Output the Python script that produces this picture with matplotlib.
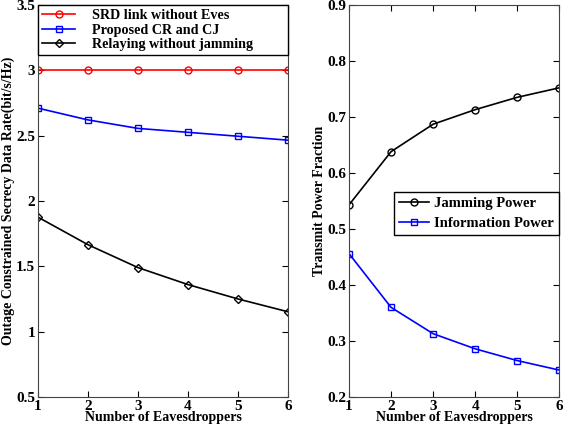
import matplotlib
matplotlib.use("Agg")
from matplotlib import pyplot as plt

eves = [1, 2, 3, 4, 5, 6]
srd_rate = [3.0, 3.0, 3.0, 3.0, 3.0, 3.0]
proposed_rate = [2.71, 2.62, 2.555, 2.525, 2.495, 2.465]
relay_rate = [1.876, 1.665, 1.49, 1.36, 1.25, 1.152]
jam_power = [0.543, 0.638, 0.687, 0.713, 0.735, 0.752]
info_power = [0.456, 0.36, 0.313, 0.286, 0.265, 0.248]

plt.rcParams['font.family'] = 'Liberation Serif'
plt.rcParams['font.weight'] = 'bold'
plt.rcParams['axes.labelweight'] = 'bold'
plt.rcParams['font.size'] = 10

fig = plt.figure(figsize=(5.67, 4.29), dpi=100)
ax1 = fig.add_axes([0.067, 0.0746, 0.441, 0.914])
ax2 = fig.add_axes([0.6155, 0.0746, 0.371, 0.914])

ms = 5
ax1.plot(eves, srd_rate, color='red', marker='o', mfc='none', ms=ms, lw=1.2, label='SRD link without Eves')
ax1.plot(eves, proposed_rate, color='blue', marker='s', mfc='none', ms=ms, lw=1.2, label='Proposed CR and CJ')
ax1.plot(eves, relay_rate, color='black', marker='D', mfc='none', ms=ms - 1, lw=1.2, label='Relaying without jamming')
ax1.set_xlim(1, 6)
ax1.set_ylim(0.5, 3.5)
ax1.set_xticks([1, 2, 3, 4, 5, 6])
ax1.set_yticks([0.5, 1, 1.5, 2, 2.5, 3, 3.5])
ax1.set_yticklabels(['0.5', '1', '1.5', '2', '2.5', '3', '3.5'])
ax1.set_xlabel('Number of Eavesdroppers', labelpad=-1)
ax1.set_ylabel('Outage Constrained Secrecy Data Rate(bit/s/Hz)', labelpad=1)
ax1.legend(loc='upper left', bbox_to_anchor=(0, 0, 1, 1), mode='expand', fontsize=10.2,
           handlelength=2.3, borderaxespad=0, fancybox=False, edgecolor='black', framealpha=1,
           borderpad=0.3, labelspacing=0.1, handletextpad=1.2)

ax2.plot(eves, jam_power, color='black', marker='o', mfc='none', ms=ms, lw=1.2, label='Jamming Power')
ax2.plot(eves, info_power, color='blue', marker='s', mfc='none', ms=ms, lw=1.2, label='Information Power')
ax2.set_xlim(1, 6)
ax2.set_ylim(0.2, 0.9)
ax2.set_xticks([1, 2, 3, 4, 5, 6])
ax2.set_xlabel('Number of Eavesdroppers', labelpad=-1)
ax2.set_ylabel('Transmit Power Fraction', labelpad=1)
ax2.legend(loc='center right', bbox_to_anchor=(1.0, 0.468), fontsize=10.5, handlelength=2.0,
           borderaxespad=0, fancybox=False, edgecolor='black', framealpha=1,
           borderpad=0.35, labelspacing=0.48, handletextpad=0.4)

for ax in (ax1, ax2):
    ax.tick_params(direction='in', top=True, right=True, length=4, pad=2, labelsize=11)
    for lab in ax.get_xticklabels() + ax.get_yticklabels():
        lab.set_fontweight('bold')
    for sp in ax.spines.values():
        sp.set_color('#444444')

plt.savefig('out.png', dpi=100)
plt.close()
